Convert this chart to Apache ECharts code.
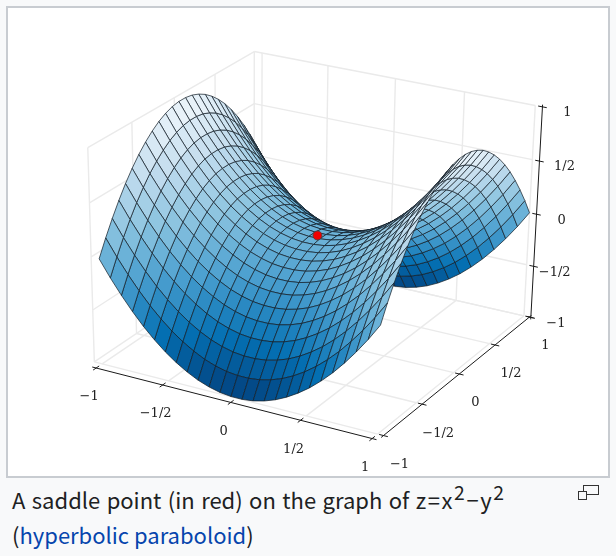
<!DOCTYPE html>
<html lang="en">
<head>
<meta charset="UTF-8">
<title>Saddle point</title>
<script src="https://cdn.jsdelivr.net/npm/echarts@6/dist/echarts.min.js"></script>
<style>
  html, body { margin: 0; padding: 0; background: #f8f9fa; width: 616px; height: 556px; overflow: hidden; }
  #frame { position: absolute; left: 6px; top: 6px; width: 600px; height: 468px; background: #fff; border: 2px solid #c8ccd1; }
  #main { position: absolute; left: 0; top: 0; width: 616px; height: 476px; }
  #caption { position: absolute; left: 12px; top: 482px; width: 560px; font: 22px/35px "Noto Sans CJK KR"; word-spacing: 1.5px; color: #202122; }
  #caption a { color: #0645ad; text-decoration: none; word-spacing: 0; }
  #caption .formula { letter-spacing: 1.6px; }
  #caption sup { font-size: 88%; line-height: 0; vertical-align: 0.46em; }
  .magnify { position: absolute; box-sizing: border-box; border: 1.5px solid #333; background: #f8f9fa; }
</style>
</head>
<body>
<div id="frame"></div>
<div id="main"></div>
<div id="caption">A saddle point (in red) on the graph of <span class="formula">z=x<sup>2</sup>−y<sup>2</sup></span><br>(<a>hyperbolic paraboloid</a>)</div>
<div class="magnify" style="left:583px;top:485px;width:16px;height:10px"></div>
<div class="magnify" style="left:578px;top:491px;width:9px;height:9px"></div>
<script>
var tickValues = [-1, -0.5, 0, 0.5, 1]
var tickLabels = ['−1', '−1/2', '0', '1/2', '1']
var meshX = [-1,-.92,-.84,-.76,-.68,-.6,-.52,-.44,-.36,-.28,-.2,-.12,-.04,.04,.12,.2,.28,.36,.44,.52,.6,.68,.76,.84,.92,1]
var meshY = [-1,-.92,-.84,-.76,-.68,-.6,-.52,-.44,-.36,-.28,-.2,-.12,-.04,.04,.12,.2,.28,.36,.44,.52,.6,.68,.76,.84,.92,1]
var saddle = [[0, 0, 0]]
var meshZ = [
[0,-.154,-.294,-.422,-.538,-.64,-.73,-.806,-.87,-.922,-.96,-.986,-.998,-.998,-.986,-.96,-.922,-.87,-.806,-.73,-.64,-.538,-.422,-.294,-.154,0],
[.154,0,-.14,-.268,-.384,-.486,-.576,-.652,-.716,-.768,-.806,-.832,-.844,-.844,-.832,-.806,-.768,-.716,-.652,-.576,-.486,-.384,-.268,-.14,0,.154],
[.294,.14,0,-.128,-.244,-.346,-.436,-.512,-.576,-.628,-.666,-.692,-.704,-.704,-.692,-.666,-.628,-.576,-.512,-.436,-.346,-.244,-.128,0,.14,.294],
[.422,.268,.128,0,-.116,-.218,-.308,-.384,-.448,-.5,-.538,-.564,-.576,-.576,-.564,-.538,-.5,-.448,-.384,-.308,-.218,-.116,0,.128,.268,.422],
[.538,.384,.244,.116,0,-.102,-.192,-.268,-.332,-.384,-.422,-.448,-.46,-.46,-.448,-.422,-.384,-.332,-.268,-.192,-.102,0,.116,.244,.384,.538],
[.64,.486,.346,.218,.102,0,-.09,-.166,-.23,-.282,-.32,-.346,-.358,-.358,-.346,-.32,-.282,-.23,-.166,-.09,0,.102,.218,.346,.486,.64],
[.73,.576,.436,.308,.192,.09,0,-.076,-.14,-.192,-.23,-.256,-.268,-.268,-.256,-.23,-.192,-.14,-.076,0,.09,.192,.308,.436,.576,.73],
[.806,.652,.512,.384,.268,.166,.076,0,-.064,-.116,-.154,-.18,-.192,-.192,-.18,-.154,-.116,-.064,0,.076,.166,.268,.384,.512,.652,.806],
[.87,.716,.576,.448,.332,.23,.14,.064,0,-.052,-.09,-.116,-.128,-.128,-.116,-.09,-.052,0,.064,.14,.23,.332,.448,.576,.716,.87],
[.922,.768,.628,.5,.384,.282,.192,.116,.052,0,-.038,-.064,-.076,-.076,-.064,-.038,0,.052,.116,.192,.282,.384,.5,.628,.768,.922],
[.96,.806,.666,.538,.422,.32,.23,.154,.09,.038,0,-.026,-.038,-.038,-.026,0,.038,.09,.154,.23,.32,.422,.538,.666,.806,.96],
[.986,.832,.692,.564,.448,.346,.256,.18,.116,.064,.026,0,-.012,-.012,0,.026,.064,.116,.18,.256,.346,.448,.564,.692,.832,.986],
[.998,.844,.704,.576,.46,.358,.268,.192,.128,.076,.038,.012,0,0,.012,.038,.076,.128,.192,.268,.358,.46,.576,.704,.844,.998],
[.998,.844,.704,.576,.46,.358,.268,.192,.128,.076,.038,.012,0,0,.012,.038,.076,.128,.192,.268,.358,.46,.576,.704,.844,.998],
[.986,.832,.692,.564,.448,.346,.256,.18,.116,.064,.026,0,-.012,-.012,0,.026,.064,.116,.18,.256,.346,.448,.564,.692,.832,.986],
[.96,.806,.666,.538,.422,.32,.23,.154,.09,.038,0,-.026,-.038,-.038,-.026,0,.038,.09,.154,.23,.32,.422,.538,.666,.806,.96],
[.922,.768,.628,.5,.384,.282,.192,.116,.052,0,-.038,-.064,-.076,-.076,-.064,-.038,0,.052,.116,.192,.282,.384,.5,.628,.768,.922],
[.87,.716,.576,.448,.332,.23,.14,.064,0,-.052,-.09,-.116,-.128,-.128,-.116,-.09,-.052,0,.064,.14,.23,.332,.448,.576,.716,.87],
[.806,.652,.512,.384,.268,.166,.076,0,-.064,-.116,-.154,-.18,-.192,-.192,-.18,-.154,-.116,-.064,0,.076,.166,.268,.384,.512,.652,.806],
[.73,.576,.436,.308,.192,.09,0,-.076,-.14,-.192,-.23,-.256,-.268,-.268,-.256,-.23,-.192,-.14,-.076,0,.09,.192,.308,.436,.576,.73],
[.64,.486,.346,.218,.102,0,-.09,-.166,-.23,-.282,-.32,-.346,-.358,-.358,-.346,-.32,-.282,-.23,-.166,-.09,0,.102,.218,.346,.486,.64],
[.538,.384,.244,.116,0,-.102,-.192,-.268,-.332,-.384,-.422,-.448,-.46,-.46,-.448,-.422,-.384,-.332,-.268,-.192,-.102,0,.116,.244,.384,.538],
[.422,.268,.128,0,-.116,-.218,-.308,-.384,-.448,-.5,-.538,-.564,-.576,-.576,-.564,-.538,-.5,-.448,-.384,-.308,-.218,-.116,0,.128,.268,.422],
[.294,.14,0,-.128,-.244,-.346,-.436,-.512,-.576,-.628,-.666,-.692,-.704,-.704,-.692,-.666,-.628,-.576,-.512,-.436,-.346,-.244,-.128,0,.14,.294],
[.154,0,-.14,-.268,-.384,-.486,-.576,-.652,-.716,-.768,-.806,-.832,-.844,-.844,-.832,-.806,-.768,-.716,-.652,-.576,-.486,-.384,-.268,-.14,0,.154],
[0,-.154,-.294,-.422,-.538,-.64,-.73,-.806,-.87,-.922,-.96,-.986,-.998,-.998,-.986,-.96,-.922,-.87,-.806,-.73,-.64,-.538,-.422,-.294,-.154,0]
]
var palette = ['#03407c', '#0470b3', '#4a9fcf', '#8cc4e0', '#c6deef', '#f1f8fc']

// perspective camera, 3 x 4 matrix with the last entry fixed at 1
var camU = [129.4486, 90.2991, -5.1027, 317.4434]
var camV = [24.7913, -44.4101, -111.0053, 235.4733]
var camW = [-0.024174, 0.038687, -0.020477, 1]

function project(x, y, z) {
  var w = camW[0] * x + camW[1] * y + camW[2] * z + camW[3]
  return [
    (camU[0] * x + camU[1] * y + camU[2] * z + camU[3]) / w,
    (camV[0] * x + camV[1] * y + camV[2] * z + camV[3]) / w,
    w
  ]
}

// the left wall sits a little outside x = -1
var wallX = -1.06
var segments = []
tickValues.forEach(function (t) {
  segments.push([[wallX, t, -1], [wallX, t, 1]], [[wallX, -1, t], [wallX, 1, t]])
  segments.push([[t, 1, -1], [t, 1, 1]], [[wallX, 1, t], [1, 1, t]])
  segments.push([[t, -1, -1], [t, 1, -1]], [[wallX, t, -1], [1, t, -1]])
})
var axisSegs = [
  [[-1.03, -1.07, -1], [1.03, -1.07, -1]],
  [[1.04, -1.03, -1], [1.04, 1.03, -1]],
  [[1.05, 1, -1.02], [1.05, 1, 1.02]]
]
var labels = []
tickValues.forEach(function (t, i) {
  axisSegs.push([[t, -1.105, -1], [t, -1.035, -1]])
  axisSegs.push([[1.01, t, -1], [1.07, t, -1]])
  axisSegs.push([[1.02, 1, t], [1.08, 1, t]])
  var a = project(t, -1.07, -1), b = project(1.04, t, -1), d = project(1.05, 1, t)
  labels.push([a[0] - 7, a[1] + 29, tickLabels[i]])
  labels.push([b[0] + 16, b[1] + 29, tickLabels[i]])
  labels.push([d[0] + (t === -0.5 ? 21 : 25), d[1] + 6, tickLabels[i]])
})

// back to front so near cells cover far ones
var cells = []
for (var j = 0; j < meshY.length - 1; j++) {
  for (var i = 0; i < meshX.length - 1; i++) {
    var mid = (meshZ[j][i] + meshZ[j][i + 1] + meshZ[j + 1][i] + meshZ[j + 1][i + 1]) / 4
    var depth = project((meshX[i] + meshX[i + 1]) / 2, (meshY[j] + meshY[j + 1]) / 2, mid)[2]
    cells.push([i, j, mid, depth])
  }
}
cells.sort(function (a, b) { return b[3] - a[3] })

var myChart = echarts.init(document.getElementById('main'), null, { renderer: 'canvas' })
myChart.setOption({
  animation: false,
  backgroundColor: 'transparent',
  grid: { left: 0, right: 0, top: 0, bottom: 0 },
  xAxis: { type: 'value', min: 0, max: 616, show: false },
  yAxis: { type: 'value', min: 0, max: 476, inverse: true, show: false },
  series: [
    {
      type: 'custom', silent: true, clip: false, progressive: 0,
      data: segments.map(function (s, n) { return [n] }),
      encode: { x: 0 },
      renderItem: function (params, api) {
        var s = segments[api.value(0)]
        var a = api.coord(project(s[0][0], s[0][1], s[0][2]))
        var b = api.coord(project(s[1][0], s[1][1], s[1][2]))
        return { type: 'line', shape: { x1: a[0], y1: a[1], x2: b[0], y2: b[1] }, style: { stroke: '#eaeaea', lineWidth: 1.4 } }
      }
    },
    {
      type: 'custom', silent: true, clip: false, progressive: 0,
      data: cells,
      encode: { x: 0, y: 1 },
      renderItem: function (params, api) {
        var i = api.value(0), j = api.value(1)
        var corners = [[i, j], [i + 1, j], [i + 1, j + 1], [i, j + 1]].map(function (q) {
          return api.coord(project(meshX[q[0]], meshY[q[1]], meshZ[q[1]][q[0]]))
        })
        return {
          type: 'polygon', shape: { points: corners },
          style: { fill: echarts.color.lerp((api.value(2) + 1) / 2, palette), stroke: 'rgba(20,30,40,0.72)', lineWidth: 1 }
        }
      }
    },
    {
      type: 'scatter', silent: true, symbolSize: 9, z: 5,
      data: saddle.map(function (p) { return project(p[0], p[1], p[2]).slice(0, 2) }),
      itemStyle: { color: '#f00000', borderColor: '#444', borderWidth: 0.8, opacity: 1 }
    },
    {
      type: 'custom', silent: true, clip: false, progressive: 0, z: 4,
      data: axisSegs.map(function (s, n) { return [n] }),
      encode: { x: 0 },
      renderItem: function (params, api) {
        var s = axisSegs[api.value(0)]
        var a = api.coord(project(s[0][0], s[0][1], s[0][2]))
        var b = api.coord(project(s[1][0], s[1][1], s[1][2]))
        return { type: 'line', shape: { x1: a[0], y1: a[1], x2: b[0], y2: b[1] }, style: { stroke: '#1a1a1a', lineWidth: 1 } }
      }
    },
    {
      type: 'custom', silent: true, clip: false, progressive: 0, z: 4,
      data: labels,
      encode: { x: 0, y: 1 },
      renderItem: function (params, api) {
        var p = api.coord([api.value(0), api.value(1)])
        return {
          type: 'text', x: p[0], y: p[1],
          style: { text: labels[params.dataIndex][2], font: '13px "DejaVu Serif"', fill: '#222', align: 'center', verticalAlign: 'middle' }
        }
      }
    }
  ]
})
</script>
</body>
</html>
